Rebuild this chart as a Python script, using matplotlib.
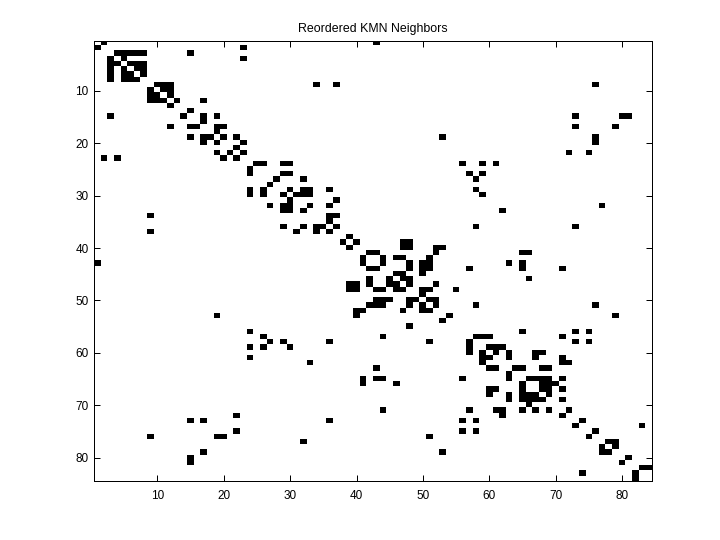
"""
Reordered KMN Neighbors : matrice d'adjacence 84 x 84
"""

import numpy as np
import matplotlib
matplotlib.use("Agg")
import matplotlib.pyplot as plt

plt.rcParams["font.family"] = ["Liberation Sans", "DejaVu Sans"]

TITRE = "Reordered KMN Neighbors"
TICKS = [10, 20, 30, 40, 50, 60, 70, 80]
N = 84

# voisins de chaque ligne (indices à partir de 1), lignes 1 à 28
voisins_a = [
    [2, 43], [1, 23], [4, 5, 6, 7, 8, 15], [3, 5, 23], [3, 4, 6, 7, 8],
    [3, 5, 7, 8], [3, 5, 6, 8], [3, 5, 6, 7], [10, 11, 12, 34, 37, 76],
    [9, 11, 12], [9, 10, 12], [9, 10, 11, 13, 17], [12], [15],
    [3, 14, 17, 19, 73, 80, 81], [17], [12, 15, 16, 19, 20, 73, 79], [19],
    [15, 17, 18, 20, 22, 53, 76], [17, 19, 23, 76], [22],
    [19, 21, 23, 72, 75], [2, 4, 20, 22], [25, 26, 29, 30, 56, 59, 61], [24],
    [24, 29, 30, 57, 59], [28, 32, 58], [27],
]

# lignes 29 à 56
voisins_b = [
    [24, 26, 30, 32, 33, 36, 58], [24, 26, 29, 31, 32, 33, 59], [30, 37],
    [27, 29, 30, 33, 36, 77], [29, 30, 32, 62], [9, 36, 37], [36],
    [29, 32, 34, 35, 37, 58, 73], [9, 31, 34, 36], [39], [38, 40, 47, 48],
    [39, 47, 48, 52, 53], [42, 43, 52, 65, 66], [41, 44, 46, 47, 51],
    [1, 41, 44, 48, 50, 51, 63, 65], [42, 43, 48, 50, 51, 57, 65, 71],
    [46, 47, 50], [42, 45, 47, 48, 66], [39, 40, 42, 45, 46, 48, 52],
    [39, 40, 43, 44, 46, 47, 50, 51, 55], [50], [43, 44, 45, 48, 49, 51, 52],
    [42, 43, 44, 48, 50, 52, 58, 76], [40, 41, 47, 50, 51], [19, 40, 54, 79],
    [53], [48], [24, 65, 73, 75],
]

# lignes 57 à 84
voisins_c = [
    [26, 44, 58, 59, 60, 71], [27, 29, 36, 51, 57, 73, 75],
    [24, 26, 30, 57, 60, 61, 62], [57, 59, 61, 63, 67, 68],
    [24, 59, 60, 63, 67, 71], [33, 59, 71, 72],
    [43, 60, 61, 64, 65, 68, 69], [63], [41, 43, 44, 56, 63, 66, 67, 68, 69, 71],
    [41, 46, 65, 68, 69, 70], [60, 61, 65, 68, 69, 71],
    [60, 63, 65, 66, 67, 69], [63, 65, 66, 67, 68, 71], [66],
    [44, 57, 61, 62, 65, 67, 69, 72], [22, 62, 71],
    [15, 17, 36, 56, 58, 74], [73, 83], [22, 56, 58, 76],
    [9, 19, 20, 51, 75], [32, 78, 79], [77, 79], [17, 53, 77, 78], [15, 81],
    [15, 80], [83, 84], [74, 82], [82],
]


def construire_matrice():
    matrice = np.zeros((N, N))
    for i, cols in enumerate(voisins_a + voisins_b + voisins_c):
        for c in cols:
            matrice[i, c - 1] = 1
    return matrice


fig = plt.figure(figsize=(7.2, 5.4), dpi=100)
ax = fig.add_axes([94.2 / 720, 1 - 481.4 / 540, 558 / 720, 440.5 / 540])

ax.imshow(construire_matrice(), cmap="gray_r", vmin=0, vmax=1, aspect="auto",
          interpolation="nearest", extent=[0.5, N + 0.5, N + 0.5, 0.5])

ax.set_xticks(TICKS)
ax.set_yticks(TICKS)
ax.tick_params(direction="in", length=4, width=0.72, top=True, right=True,
               labelsize=8.5, colors="black")
ax.tick_params(axis="x", pad=6)
ax.tick_params(axis="y", pad=4)
for spine in ax.spines.values():
    spine.set_linewidth(0.72)
ax.set_title(TITRE, fontsize=8.9, pad=6.5)

fig.savefig("out.png", dpi=100)
